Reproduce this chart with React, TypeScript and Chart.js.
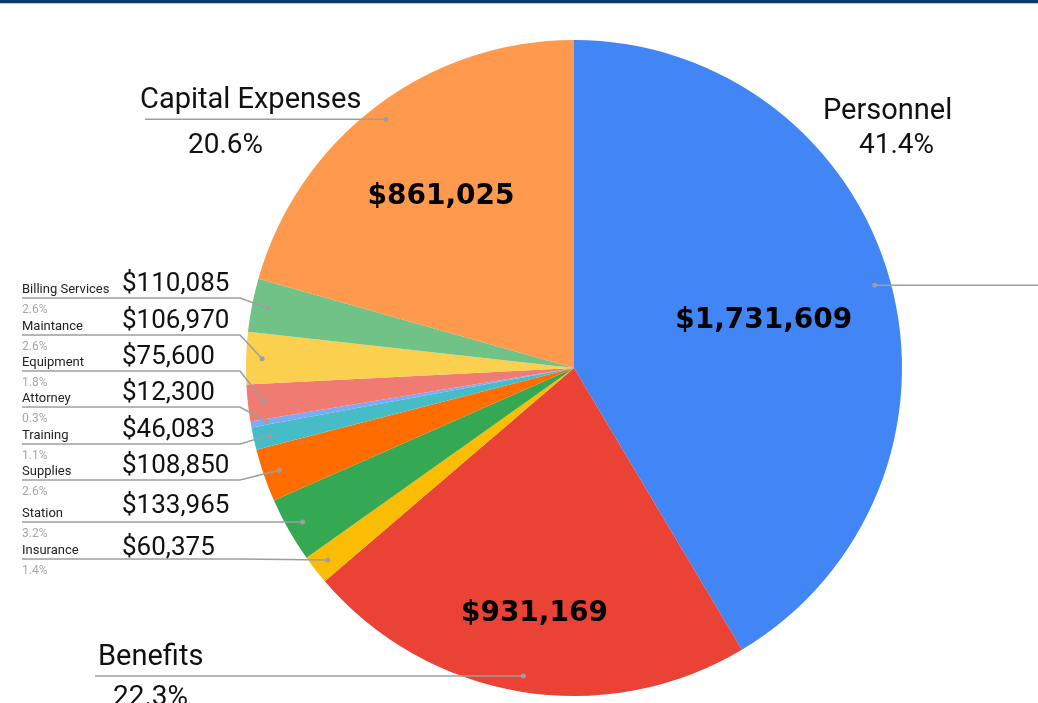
import React, { useEffect, useRef } from "react";
import { Chart, registerables } from "chart.js";

Chart.register(...registerables);

const categories = [
  "Personnel",
  "Benefits",
  "Insurance",
  "Station",
  "Supplies",
  "Training",
  "Attorney",
  "Equipment",
  "Maintance",
  "Billing Services",
  "Capital Expenses",
];

const amounts = [
  1731609, 931169, 60375, 133965, 108850, 46083, 12300, 75600, 106970, 110085, 861025,
];

const sliceColors = [
  "#4285F4",
  "#EA4335",
  "#FBBC04",
  "#34A853",
  "#FF6D01",
  "#46BDC6",
  "#7BAAF7",
  "#F07B72",
  "#FCD04F",
  "#71C287",
  "#FF994D",
];

// label layout (positions only)
type Big = { type: "big"; lineX: number; nameX: number; nameY: number; pctX: number; pctY: number; valR: number };
type Small = { type: "small"; lineY: number; valDy: number };
const layout: (Big | Small)[] = [
  { type: "big", lineX: 1038, nameX: 823, nameY: 119, pctX: 859, pctY: 153, valR: 0.6 },
  { type: "big", lineX: 95, nameX: 98, nameY: 665, pctX: 113, pctY: 705, valR: 0.745 },
  { type: "small", lineY: 559, valDy: -4 },
  { type: "small", lineY: 522, valDy: -9 },
  { type: "small", lineY: 480, valDy: -7 },
  { type: "small", lineY: 444, valDy: -7 },
  { type: "small", lineY: 407, valDy: -7 },
  { type: "small", lineY: 371, valDy: -7 },
  { type: "small", lineY: 335, valDy: -7 },
  { type: "small", lineY: 298, valDy: -7 },
  { type: "big", lineX: 145, nameX: 140, nameY: 108, pctX: 188, pctY: 153, valR: 0.672 },
];

const fmtMoney = (v: number) => "$" + v.toLocaleString("en-US");

const labelPlugin = {
  id: "customLabels",
  beforeDraw(chart: any) {
    const ctx = chart.ctx;
    ctx.save();
    ctx.fillStyle = "#ffffff";
    ctx.fillRect(0, 0, chart.width, chart.height);
    ctx.fillStyle = "#0D3A66";
    ctx.fillRect(0, 0, chart.width, 3);
    ctx.fillStyle = "#B9C6D0";
    ctx.fillRect(0, 3, chart.width, 1);
    ctx.restore();
  },
  afterDraw(chart: any) {
    const ctx = chart.ctx;
    const meta = chart.getDatasetMeta(0);
    const data: number[] = chart.data.datasets[0].data;
    const total = data.reduce((a, b) => a + b, 0);
    ctx.save();
    meta.data.forEach((arc: any, i: number) => {
      const p = arc.getProps(["x", "y", "startAngle", "endAngle", "outerRadius"], true);
      const mid = (p.startAngle + p.endAngle) / 2;
      const dr = p.outerRadius - 16;
      const dx = p.x + Math.cos(mid) * dr;
      const dy = p.y + Math.sin(mid) * dr;
      const pct = ((data[i] / total) * 100).toFixed(1) + "%";
      const L = layout[i];
      ctx.strokeStyle = "#9E9E9E";
      ctx.lineWidth = 1.5;
      ctx.beginPath();
      if (L.type === "big") {
        ctx.moveTo(L.lineX, dy);
        ctx.lineTo(dx, dy);
        ctx.stroke();
        ctx.fillStyle = "#111";
        ctx.font = "29px Roboto";
        ctx.textAlign = "left";
        ctx.textBaseline = "alphabetic";
        ctx.fillText(chart.data.labels[i], L.nameX, L.nameY);
        ctx.font = "28px Roboto";
        ctx.fillText(pct, L.pctX, L.pctY);
        // value inside slice
        const vr = p.outerRadius * L.valR;
        ctx.font = "bold 28px 'DejaVu Sans'";
        ctx.textAlign = "center";
        ctx.textBaseline = "middle";
        ctx.fillStyle = "#000";
        ctx.fillText(fmtMoney(data[i]), p.x + Math.cos(mid) * vr, p.y + Math.sin(mid) * vr + 5);
      } else {
        ctx.moveTo(22, L.lineY);
        ctx.lineTo(240, L.lineY);
        ctx.lineTo(dx, dy);
        ctx.stroke();
        ctx.textAlign = "left";
        ctx.textBaseline = "alphabetic";
        ctx.fillStyle = "#222";
        ctx.font = "13px Roboto";
        ctx.fillText(chart.data.labels[i], 22, L.lineY - 5);
        ctx.fillStyle = "#111";
        ctx.font = "26px Roboto";
        ctx.fillText(fmtMoney(data[i]), 122, L.lineY + L.valDy);
        ctx.fillStyle = "#A8A8A8";
        ctx.font = "12px Roboto";
        ctx.fillText(pct, 22, L.lineY + 15);
      }
      ctx.fillStyle = "#9E9E9E";
      ctx.beginPath();
      ctx.arc(dx, dy, 2.5, 0, Math.PI * 2);
      ctx.fill();
    });
    ctx.restore();
  },
};

export default function App() {
  const ref = useRef<HTMLCanvasElement | null>(null);
  useEffect(() => {
    document.body.style.margin = "0";
    if (!ref.current) return;
    const chart = new Chart(ref.current, {
      type: "pie",
      data: {
        labels: categories,
        datasets: [
          {
            data: amounts,
            backgroundColor: sliceColors,
            borderWidth: 0,
          },
        ],
      },
      options: {
        animation: false,
        responsive: false,
        devicePixelRatio: 1,
        layout: { padding: { left: 246, right: 136, top: 40, bottom: 7 } },
        plugins: {
          legend: { display: false },
          tooltip: { enabled: false },
        },
      },
      plugins: [labelPlugin],
    });
    return () => chart.destroy();
  }, []);
  return (
    <div style={{ width: 1038, height: 703, overflow: "hidden" }}>
      <canvas ref={ref} width={1038} height={703} style={{ display: "block" }} />
    </div>
  );
}
